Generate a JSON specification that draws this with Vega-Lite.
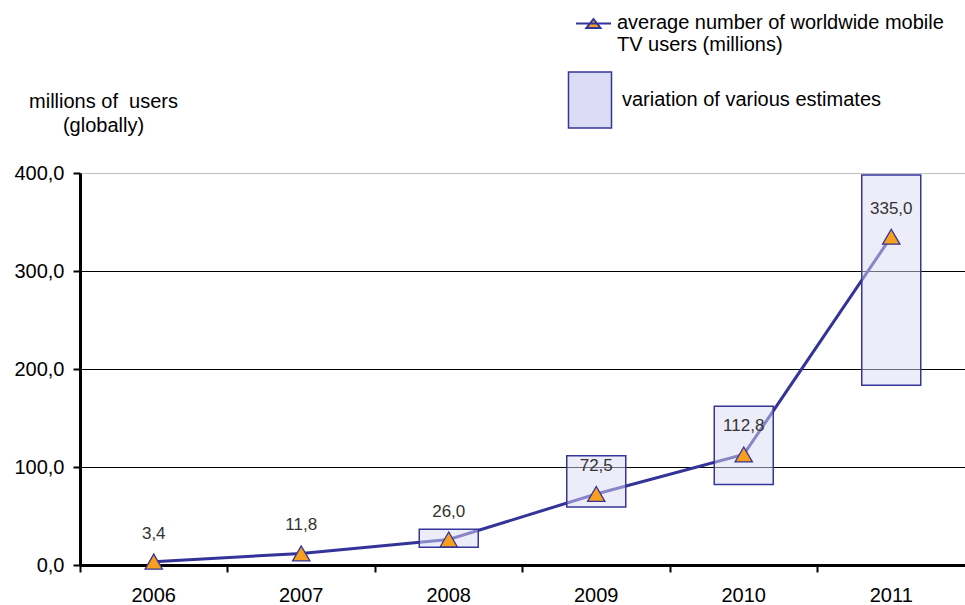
{
  "$schema": "https://vega.github.io/schema/vega-lite/v6.json",
  "width": 885,
  "height": 392,
  "autosize": "none",
  "padding": {"left": 80, "top": 173, "right": 0, "bottom": 40},
  "background": "white",
  "config": {"font": "Liberation Sans", "view": {"stroke": null}},
  "data": {
    "values": [
      {"year": "2006", "users": 3.4, "low": null, "high": null},
      {"year": "2007", "users": 11.8, "low": null, "high": null},
      {"year": "2008", "users": 26.0, "low": 18.1, "high": 36.5},
      {"year": "2009", "users": 72.5, "low": 59.3, "high": 111.5},
      {"year": "2010", "users": 112.8, "low": 82.1, "high": 161.9},
      {"year": "2011", "users": 335.0, "low": 183.5, "high": 398.0}
    ]
  },
  "encoding": {
    "x": {
      "field": "year",
      "type": "ordinal",
      "scale": {"paddingInner": 0, "paddingOuter": 0},
      "axis": {
        "title": null,
        "labelAngle": 0,
        "bandPosition": 0,
        "tickSize": 7,
        "tickWidth": 2,
        "tickColor": "#000",
        "domainColor": "#000",
        "domainWidth": 3,
        "labelFontSize": 20,
        "labelColor": "#000",
        "labelPadding": 13,
        "grid": false
      }
    }
  },
  "resolve": {"scale": {"fill": "independent"}},
  "layer": [
    {
      "mark": {"type": "line", "color": "#333399", "strokeWidth": 3},
      "encoding": {
        "y": {
          "field": "users",
          "type": "quantitative",
          "title": ["millions of\u00a0 users", "(globally)"],
          "scale": {"domain": [0, 400], "nice": false},
          "axis": {
            "values": [0, 100, 200, 300, 400],
            "grid": true,
            "gridColor": {"condition": {"test": "datum.value == 400", "value": "#c0c0c0"}, "value": "#000"},
            "gridWidth": 1,
            "domainColor": "#000",
            "domainWidth": 3,
            "tickColor": "#000",
            "tickWidth": 2,
            "tickSize": 7,
            "labelFontSize": 20,
            "labelColor": "#000",
            "labelPadding": 9,
            "labelExpr": "replace(format(datum.value, '.1f'), '.', ',')",
            "titleAngle": 0,
            "titleAlign": "center",
            "titleBaseline": "alphabetic",
            "titleX": 23,
            "titleY": -66,
            "titleFontSize": 20,
            "titleFontWeight": "normal",
            "titleLineHeight": 24,
            "titleColor": "#000"
          }
        }
      }
    },
    {
      "transform": [{"filter": "datum.low != null"}],
      "mark": {"type": "bar", "width": {"band": 0.4}, "fillOpacity": 0.5, "stroke": "#35359A", "strokeWidth": 1.5},
      "encoding": {
        "y": {"field": "low", "type": "quantitative", "title": ["millions of\u00a0 users", "(globally)"]},
        "y2": {"field": "high"},
        "fill": {
          "datum": "variation of various estimates",
          "scale": {"range": ["#DCDCF6"]},
          "legend": {
            "orient": "none",
            "legendX": 481,
            "legendY": -102,
            "padding": 0,
            "title": null,
            "symbolType": "M-0.768,-1H0.768V1H-0.768Z",
            "symbolSize": 3136,
            "symbolStrokeColor": "#35359A",
            "symbolStrokeWidth": 1.5,
            "labelFontSize": 20,
            "labelColor": "#000",
            "labelOffset": 3,
            "labelLimit": 500
          }
        }
      }
    },
    {
      "mark": {"type": "point", "shape": "triangle-up", "filled": true, "size": 300, "stroke": "#333399", "strokeWidth": 1.3, "opacity": 1},
      "encoding": {
        "y": {"field": "users", "type": "quantitative", "title": ["millions of\u00a0 users", "(globally)"]},
        "fill": {
          "datum": "average number of worldwide mobile TV users (millions)",
          "scale": {"range": ["#F8A01E"]},
          "legend": {
            "orient": "none",
            "legendX": 495,
            "legendY": -169,
            "padding": 0,
            "title": null,
            "symbolType": "M-1,0.05H1M-0.4,0.31L0,-0.2L0.4,0.31Z",
            "symbolSize": 1225,
            "symbolStrokeColor": "#333399",
            "symbolStrokeWidth": 2,
            "labelExpr": "['average number of worldwide mobile', 'TV users (millions)']",
            "labelBaseline": "middle",
            "labelFontSize": 20,
            "labelColor": "#000",
            "labelOffset": 5,
            "labelLimit": 500
          }
        }
      }
    },
    {
      "transform": [{"calculate": "replace(format(datum.users, '.1f'), '.', ',')", "as": "lbl"}],
      "mark": {"type": "text", "dy": -28, "fontSize": 17, "color": "#333333"},
      "encoding": {
        "y": {"field": "users", "type": "quantitative", "title": ["millions of\u00a0 users", "(globally)"]},
        "text": {"field": "lbl"}
      }
    }
  ]
}
